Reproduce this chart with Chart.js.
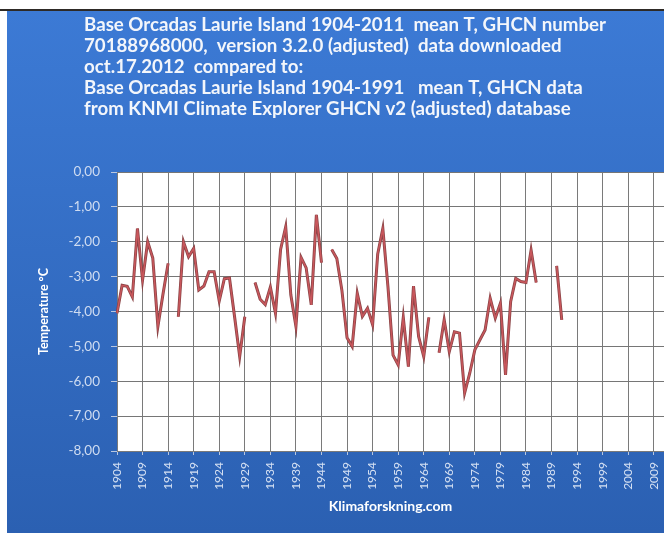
<!DOCTYPE html>
<html><head><meta charset="utf-8">
<script src="https://cdn.jsdelivr.net/npm/chart.js@4.4.0/dist/chart.umd.min.js"></script>
<style>
html,body{margin:0;padding:0;background:#fff;overflow:hidden}
#wrap{position:relative;width:664px;height:536px}
#topline{position:absolute;left:0;top:9px;width:664px;height:2px;background:#2e2a26}
#bg{position:absolute;left:7px;top:11px;width:657px;height:522px;background:linear-gradient(#3c7ad5,#2b60b2)}
canvas{position:absolute;left:0;top:0}
</style></head><body>
<div id="wrap"><div id="topline"></div><div id="bg"></div><canvas id="c" width="664" height="536"></canvas></div>
<script>
const titleLines = [
  'Base Orcadas Laurie Island 1904-2011  mean T, GHCN number',
  '70188968000,  version 3.2.0 (adjusted)  data downloaded',
  'oct.17.2012  compared to:',
  'Base Orcadas Laurie Island 1904-1991   mean T, GHCN data',
  'from KNMI Climate Explorer GHCN v2 (adjusted) database'
];
const yAxisTitle = 'Temperature °C';
const xAxisTitle = 'Klimaforskning.com';
const firstYear = 1904, lastYear = 2011;
const years = [];
for (let y = firstYear; y <= lastYear; y++) years.push(String(y));

// mean temperature, 1904..2011 (null = missing year)
const meanT = [
  -4.05, -3.25, -3.28, -3.58, -1.62, -3.10, -2.00, -2.47, -4.43, -3.50, // 1904-1913
  -2.62, null, -4.15, -2.00, -2.43, -2.19, -3.38, -3.27, -2.86, -2.86,  // 1914-1923
  -3.70, -3.06, -3.04, -4.15, -5.29, -4.15, null, -3.17, -3.65, -3.80,  // 1924-1933
  -3.30, -4.05, -2.22, -1.57, -3.52, -4.43, -2.45, -2.75, -3.81, -1.23, // 1934-1943
  -2.60, null, -2.22, -2.48, -3.40, -4.75, -5.00, -3.48, -4.14, -3.91,  // 1944-1953
  -4.38, -2.35, -1.62, -3.29, -5.25, -5.53, -4.17, -5.58, -3.27, -4.72, // 1954-1963
  -5.29, -4.17, null, -5.18, -4.24, -5.15, -4.58, -4.62, -6.34, -5.77,  // 1964-1973
  -5.10, -4.81, -4.53, -3.62, -4.19, -3.76, -5.82, -3.72, -3.05, -3.14, // 1974-1983
  -3.17, -2.24, -3.17, null, null, null, -2.69, -4.24, null, null,      // 1984-1993
  null, null, null, null, null, null, null, null, null, null,           // 1994-2003
  null, null, null, null, null, null, null, null                        // 2004-2011
];
const yMin = -8, yMax = 0, yStep = 1;
const labelEvery = 5;

const plotBg = {
  id: 'plotBg',
  beforeDraw(chart) {
    const {ctx, chartArea: a} = chart;
    ctx.save();
    ctx.fillStyle = '#ffffff';
    ctx.fillRect(a.left, a.top, a.right - a.left, a.bottom - a.top);
    ctx.restore();
  }
};
const headText = {
  id: 'headText',
  afterDraw(chart) {
    const ctx = chart.ctx;
    ctx.save();
    ctx.fillStyle = '#f3f6fb';
    ctx.font = 'bold 18.7px Lato';
    ctx.textBaseline = 'middle';
    ctx.textAlign = 'left';
    titleLines.forEach((t, i) => ctx.fillText(t, 84, 25 + i * 21));
    ctx.restore();
  }
};

new Chart(document.getElementById('c'), {
  type: 'line',
  data: {
    labels: years,
    datasets: [
      {label: 'GHCN v2', data: meanT, borderColor: '#c9575c', borderWidth: 1.5, pointRadius: 0, spanGaps: false, tension: 0, order: 0},
      {label: 'GHCN v3.2.0', data: meanT, borderColor: '#8a4446', borderWidth: 3, pointRadius: 0, spanGaps: false, tension: 0, order: 1}
    ]
  },
  options: {
    responsive: false,
    animation: false,
    layout: {padding: {top: 172, left: 0, right: 0, bottom: 0}},
    plugins: {legend: {display: false}, title: {display: false}, tooltip: {enabled: false}},
    scales: {
      x: {
        offset: false,
        grid: {color: '#7a7a7a', tickLength: 4, tickColor: '#b9c7e0'},
        border: {color: '#7a7a7a'},
        ticks: {
          autoSkip: false, minRotation: 90, maxRotation: 90, padding: 7,
          color: '#d6e1f3', font: {family: 'Lato', size: 12},
          callback: (v, i) => (i % labelEvery === 0 ? years[i] : null)
        },
        title: {display: true, text: xAxisTitle, color: '#ffffff', font: {family: 'Lato', size: 14, weight: 'bold'}, padding: {top: 0, bottom: 21}},
        afterFit: s => { s.height = 85; s.paddingLeft = 0; s.paddingRight = 0; }
      },
      y: {
        min: yMin, max: yMax,
        grid: {color: '#767676', tickLength: 6, tickColor: '#b9c7e0'},
        border: {color: '#7a7a7a'},
        ticks: {
          stepSize: yStep, padding: 11, color: '#cfdcf1', font: {family: 'Lato', size: 13.5},
          callback: v => v.toFixed(2).replace('.', ',')
        },
        title: {display: true, text: yAxisTitle, color: '#ffffff', font: {family: 'Lato', size: 12.5, weight: 'bold'}, padding: {top: 36, bottom: 0}},
        afterFit: s => { s.width = 117; }
      }
    }
  },
  plugins: [plotBg, headText]
});
</script>
</body></html>
